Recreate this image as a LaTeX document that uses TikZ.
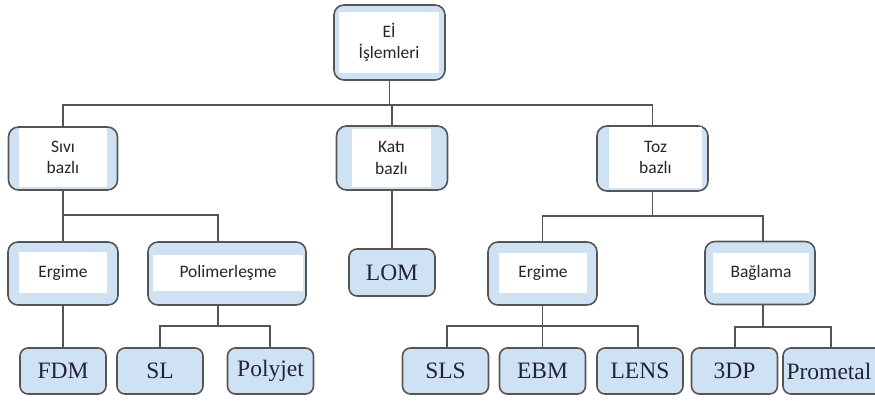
\documentclass[tikz,border=0pt]{standalone}
\usepackage{fontspec}
\setmainfont{Carlito}
\newfontfamily\bookfont{Liberation Serif}
\definecolor{boxblue}{RGB}{207,226,243}
\definecolor{edgegray}{RGB}{85,85,85}
\definecolor{inkblue}{RGB}{35,35,55}

\begin{document}
\begin{tikzpicture}[x=1pt,y=-1pt]
\useasboundingbox (0,0) rectangle (875,401);
\begin{scope}
\tikzstyle{frame}=[draw=edgegray, fill=boxblue, line width=1.6pt, rounded corners=10pt, minimum width=110pt, minimum height=63pt];
\tikzstyle{pane}=[fill=white, inner sep=0pt, align=center, text=black!85, font=\fontsize{17.5}{21.5}\selectfont];
\tikzstyle{leaf}=[draw=edgegray, fill=boxblue, line width=1.6pt, rounded corners=8pt, minimum width=86pt, minimum height=46pt, inner sep=0pt, text=inkblue, font=\bookfont\fontsize{23.5}{26}\selectfont];
\tikzstyle{wire}=[draw=edgegray, line width=1.4pt];

% root
\draw (389.5,42.5) node[frame, minimum width=111pt, minimum height=75pt] (top) {};
\draw (389,42.5) node[pane, minimum width=100pt, minimum height=61pt] (topt) {Eİ\\İşlemleri};

% second row
\draw (63,158.5) node[frame, minimum width=109pt] (liq) {};
\draw (63,157.5) node[pane, minimum width=88pt, minimum height=59pt] (liqt) {Sıvı\\bazlı};
\draw (392,158) node[frame, minimum width=111pt, minimum height=64pt] (sol) {};
\draw (391.5,158) node[pane, minimum width=79pt, minimum height=58pt] (solt) {Katı\\bazlı};
\draw (652.5,158.5) node[frame, minimum width=111pt, minimum height=65pt] (pow) {};
\draw (655.5,157.5) node[pane, minimum width=93pt, minimum height=61pt] (powt) {Toz\\bazlı};

% third row
\draw (63,273.5) node[frame] (melta) {};
\draw (63,272.5) node[pane, minimum width=88pt, minimum height=41pt] (meltat) {Ergime};
\draw (227,273.5) node[frame, minimum width=158pt] (poly) {};
\draw (228,273) node[pane, minimum width=150pt, minimum height=36pt] (polyt) {Polimerleşme};
\draw (392,272.5) node[leaf, minimum height=47pt] (lom) {LOM};
\draw (542.5,273.5) node[frame, minimum width=109pt] (meltb) {};
\draw (543,273) node[pane, minimum width=88pt, minimum height=40pt] (meltbt) {Ergime};
\draw (760,273) node[frame] (bind) {};
\draw (761,273) node[pane, minimum width=96pt, minimum height=40pt] (bindt) {Bağlama};

% leaves
\draw (63,371) node[leaf] (fdm) {FDM};
\draw (160,371) node[leaf] (sl) {SL};
\draw (270.5,371) node[leaf] (pj) {Polyjet};
\draw (445.5,371) node[leaf] (sls) {SLS};
\draw (542.5,371) node[leaf] (ebm) {EBM};
\draw (640,371) node[leaf] (lens) {LENS};
\draw (734.5,371) node[leaf] (tdp) {3DP};
\draw (833,371) node[leaf, minimum width=100pt] (prom) {\hspace*{-8pt}Prometal};

% connectors
\coordinate (bus0) at (390,105);
\coordinate (bus1) at (218,215);
\coordinate (bus2) at (653,216);
\coordinate (bus3) at (218,326);
\coordinate (bus4) at (543,326);
\coordinate (bus5) at (763,327);
\draw[wire] (top.south) -- (top.south |- bus0);
\draw[wire] (liq.north) |- (bus0) -| (pow.north);
\draw[wire] (sol.north) -- (sol.north |- bus0);
\draw[wire] (liq.south) -- (liq.south |- melta.north);
\draw[wire] (liq.south |- bus1) -| ([xshift=-9pt]poly.north);
\draw[wire] (sol.south) -- (sol.south |- lom.north);
\draw[wire] (pow.south) -- (pow.south |- bus2);
\draw[wire] (meltb.north) |- (bus2) -| ([xshift=3pt]bind.north);
\draw[wire] (melta.south) -- (melta.south |- fdm.north);
\draw[wire] ([xshift=-9pt]poly.south) -- (bus3);
\draw[wire] (sl.north) |- (bus3) -| ([xshift=-0.5pt]pj.north);
\draw[wire] (meltb.south) -- (meltb.south |- bus4);
\draw[wire] ([xshift=1.5pt]sls.north) |- (bus4) -| ([xshift=-2pt]lens.north);
\draw[wire] (ebm.north) -- (ebm.north |- bus4);
\draw[wire] ([xshift=3pt]bind.south) -- (bus5);
\draw[wire] ([xshift=0.5pt]tdp.north) |- (bus5) -| ([xshift=-2pt]prom.north);
\end{scope}
\end{tikzpicture}
\end{document}
